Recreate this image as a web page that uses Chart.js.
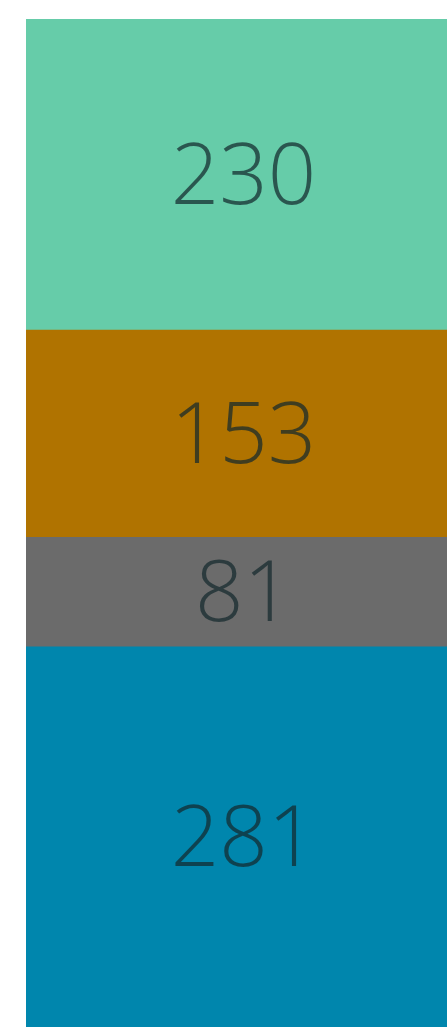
<!DOCTYPE html>
<html>
<head>
<meta charset="utf-8">
<script src="https://cdn.jsdelivr.net/npm/chart.js@4"></script>
<style>
html,body{margin:0;padding:0;background:#fff;overflow:hidden;}
#wrap{position:relative;width:447px;height:1027px;}
</style>
</head>
<body>
<div id="wrap"><canvas id="c"></canvas></div>
<script>
const categories = ['Total'];
const seriesNames = ['A', 'B', 'C', 'D'];
const seriesValues = [[230], [153], [81], [281]];
const seriesColors = ['#66CCA9', '#B07300', '#6B6B6B', '#0086AD'];

const labelPlugin = {
  id: 'segLabels',
  afterDatasetsDraw(chart) {
    const ctx = chart.ctx;
    ctx.save();
    ctx.font = '300 85px "Open Sans"';
    ctx.fillStyle = 'rgba(20,40,45,0.72)';
    ctx.textAlign = 'center';
    ctx.textBaseline = 'middle';
    chart.data.datasets.forEach((ds, i) => {
      const meta = chart.getDatasetMeta(i);
      meta.data.forEach((bar, j) => {
        const top = Math.min(bar.y, bar.base), bot = Math.max(bar.y, bar.base);
        ctx.fillText(String(ds.data[j]), bar.x + 7, (top + bot) / 2 + 5);
      });
    });
    ctx.restore();
  }
};

const total = seriesValues.reduce((s, v) => s + v[0], 0);

new Chart(document.getElementById('c'), {
  type: 'bar',
  data: {
    labels: categories,
    datasets: seriesNames.map((n, i) => ({
      label: n,
      data: seriesValues[i],
      backgroundColor: seriesColors[i],
      borderWidth: 0,
      barPercentage: 1,
      categoryPercentage: 1
    })).reverse()
  },
  options: {
    responsive: true,
    maintainAspectRatio: false,
    animation: false,
    layout: { padding: { left: 26, top: 19, right: 0, bottom: 0 } },
    plugins: { legend: { display: false }, tooltip: { enabled: false } },
    scales: {
      x: { stacked: true, display: false },
      y: { stacked: true, display: false, min: 0, max: total }
    }
  },
  plugins: [labelPlugin]
});
</script>
</body>
</html>
